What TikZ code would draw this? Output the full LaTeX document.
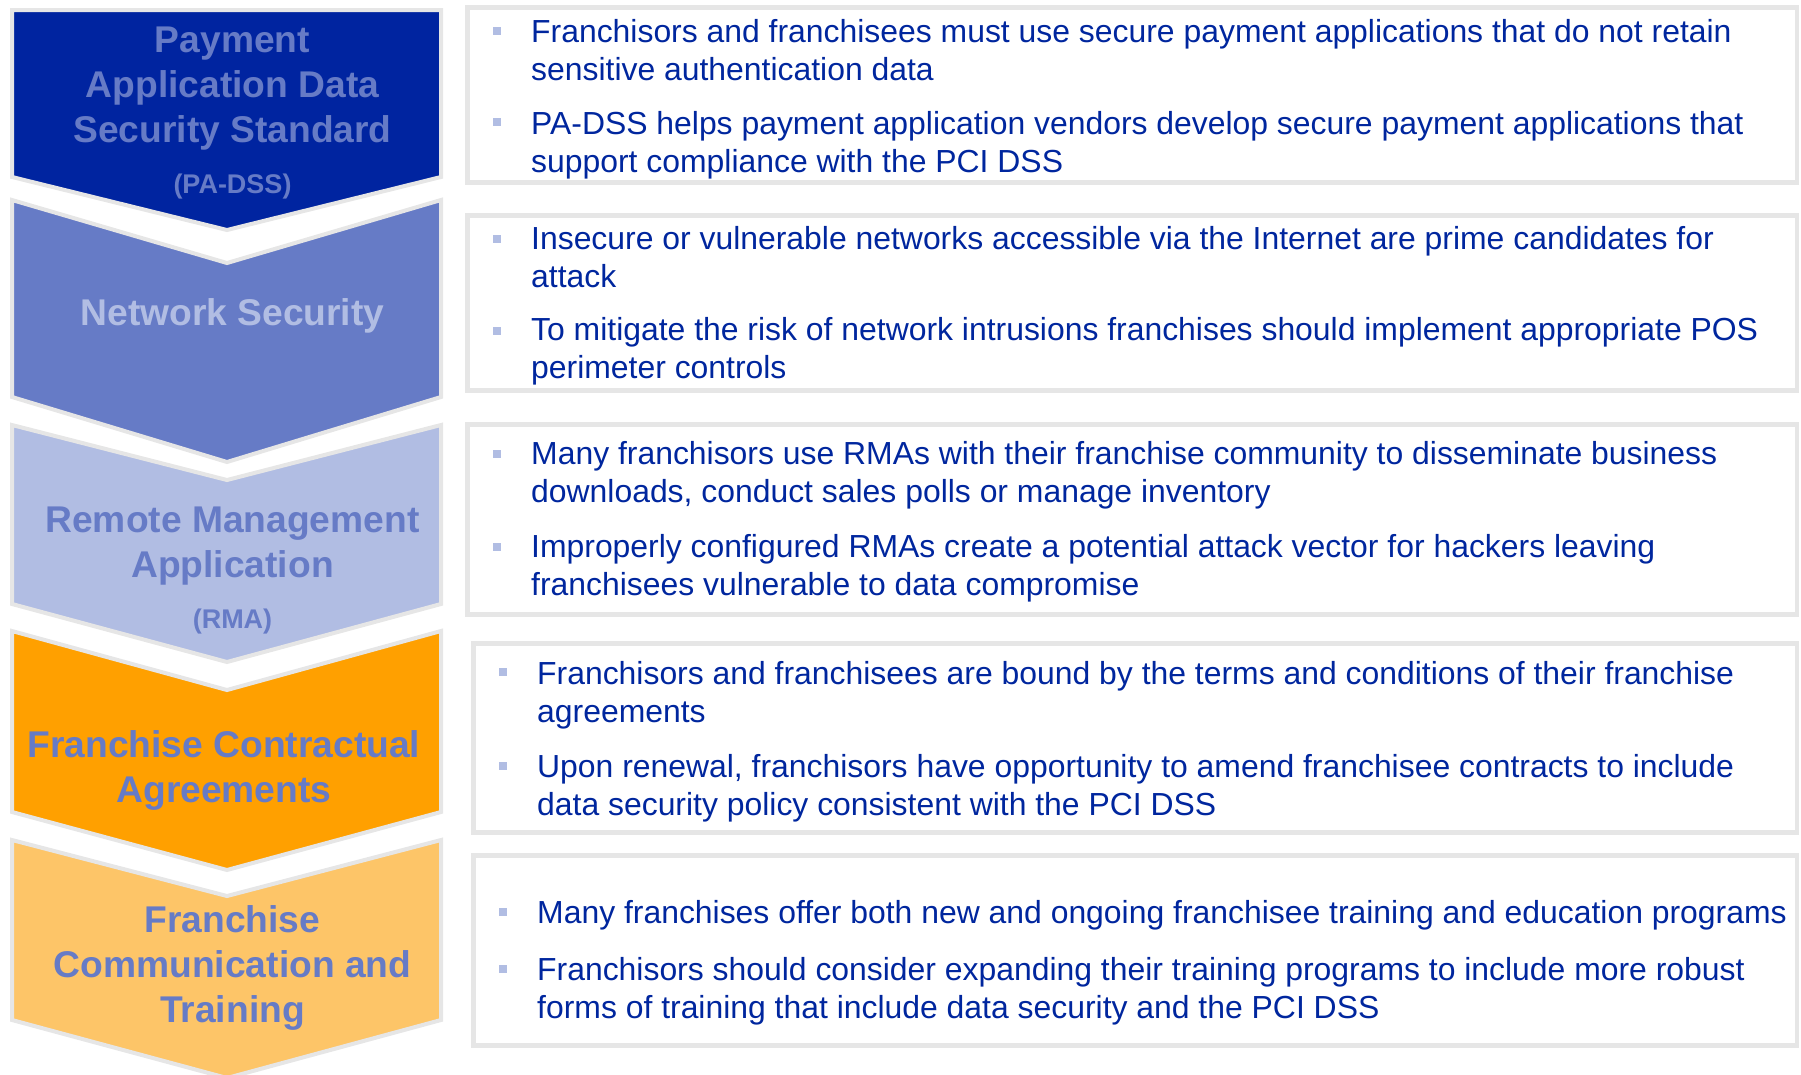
\documentclass[tikz,border=0pt]{standalone}
\usepackage{fontspec}
\setmainfont{Liberation Sans}
\usepackage{xcolor}
\definecolor{navyblue}{RGB}{0,36,160}
\definecolor{midblue}{RGB}{102,123,198}
\definecolor{paleblue}{RGB}{177,189,227}
\definecolor{deeporange}{RGB}{255,160,0}
\definecolor{lightorange}{RGB}{253,197,104}
\definecolor{edgegray}{RGB}{230,230,230}
\definecolor{bodytext}{RGB}{0,38,158}

\begin{document}
\begin{tikzpicture}[x=1pt,y=-1pt,
  chevron/.style={draw=edgegray,line width=4pt,line join=miter},
  steplabel/.style={align=center,anchor=base,inner sep=0pt,font=\fontsize{37.2}{45}\selectfont\bfseries},
  abbrev/.style={anchor=base,inner sep=0pt,font=\fontsize{27}{32}\selectfont\bfseries},
  infobox/.style={draw=edgegray,line width=4.5pt},
  item/.style={anchor=base west,align=left,inner sep=0pt,text=bodytext,font=\fontsize{31.9}{38}\selectfont},
  bullet/.style={fill=paleblue,minimum size=8pt,inner sep=0pt}]
  \useasboundingbox (0,0) rectangle (1801,1074);
  \clip (0,0) rectangle (1801,1074);

  % left column of chevrons (multi-line nodes sit on their last baseline)
  \draw[chevron,fill=navyblue](12,10)--(441,10)--(441,177)--(227,230)--(12,177)--cycle;
  \draw[chevron,fill=midblue](12,200)--(227,263)--(441,200)--(441,397)--(227,462)--(12,397)--cycle;
  \draw[chevron,fill=paleblue](12,425)--(227,480)--(441,425)--(441,604)--(227,662)--(12,604)--cycle;
  \draw[chevron,fill=deeporange](12,631)--(227,690)--(441,631)--(441,812)--(227,870)--(12,812)--cycle;
  \draw[chevron,fill=lightorange](12,840)--(227,896)--(441,840)--(441,1020)--(227,1078)--(12,1020)--cycle;

  \node[steplabel,text=midblue](padss) at(232.5,142){Payment\\Application Data\\Security Standard};
  \node[abbrev,text=midblue](padssabbr) at(232.5,193){(PA-DSS)};
  \node[steplabel,text=paleblue](netsec) at(232.5,325){Network Security};
  \node[steplabel,text=midblue](rma) at(232.5,577){Remote Management\\Application};
  \node[abbrev,text=midblue](rmaabbr) at(232.5,628){(RMA)};
  \node[steplabel,text=midblue](contract) at(224,802){Franchise Contractual\\Agreements};
  \node[steplabel,text=midblue](training) at(232.5,1022){Franchise\\Communication and\\Training};

  % right column of text boxes
  \draw[infobox](467.5,7.5) rectangle (1797,182.5);
  \draw[infobox](467.5,215.5) rectangle (1797,390.5);
  \draw[infobox](467.5,424.5) rectangle (1797,614.5);
  \draw[infobox](473.5,643.5) rectangle (1797,832.5);
  \draw[infobox](473.5,855.5) rectangle (1797,1045.5);

  \node[bullet](b1a) at(496.5,31){};
  \node[item](t1a) at(531,80){Franchisors and franchisees must use secure payment applications that do not retain\\sensitive authentication data};
  \node[bullet](b1b) at(496.5,122){};
  \node[item](t1b) at(531,172){PA-DSS helps payment application vendors develop secure payment applications that\\support compliance with the PCI DSS};

  \node[bullet](b2a) at(496.5,239){};
  \node[item](t2a) at(531,287){Insecure or vulnerable networks accessible via the Internet are prime candidates for\\attack};
  \node[bullet](b2b) at(496.5,331){};
  \node[item](t2b) at(531,378){To mitigate the risk of network intrusions franchises should implement appropriate POS\\perimeter controls};

  \node[bullet](b3a) at(496.5,454){};
  \node[item](t3a) at(531,502){Many franchisors use RMAs with their franchise community to disseminate business\\downloads, conduct sales polls or manage inventory};
  \node[bullet](b3b) at(496.5,547){};
  \node[item](t3b) at(531,595){Improperly configured RMAs create a potential attack vector for hackers leaving\\franchisees vulnerable to data compromise};

  \node[bullet](b4a) at(503,672){};
  \node[item](t4a) at(537,722){Franchisors and franchisees are bound by the terms and conditions of their franchise\\agreements};
  \node[bullet](b4b) at(503,766){};
  \node[item](t4b) at(537,815){Upon renewal, franchisors have opportunity to amend franchisee contracts to include\\data security policy consistent with the PCI DSS};

  \node[bullet](b5a) at(503,912){};
  \node[item](t5a) at(537,923){Many franchises offer both new and ongoing franchisee training and education programs};
  \node[bullet](b5b) at(503,969){};
  \node[item](t5b) at(537,1018){Franchisors should consider expanding their training programs to include more robust\\forms of training that include data security and the PCI DSS};
\end{tikzpicture}
\end{document}
